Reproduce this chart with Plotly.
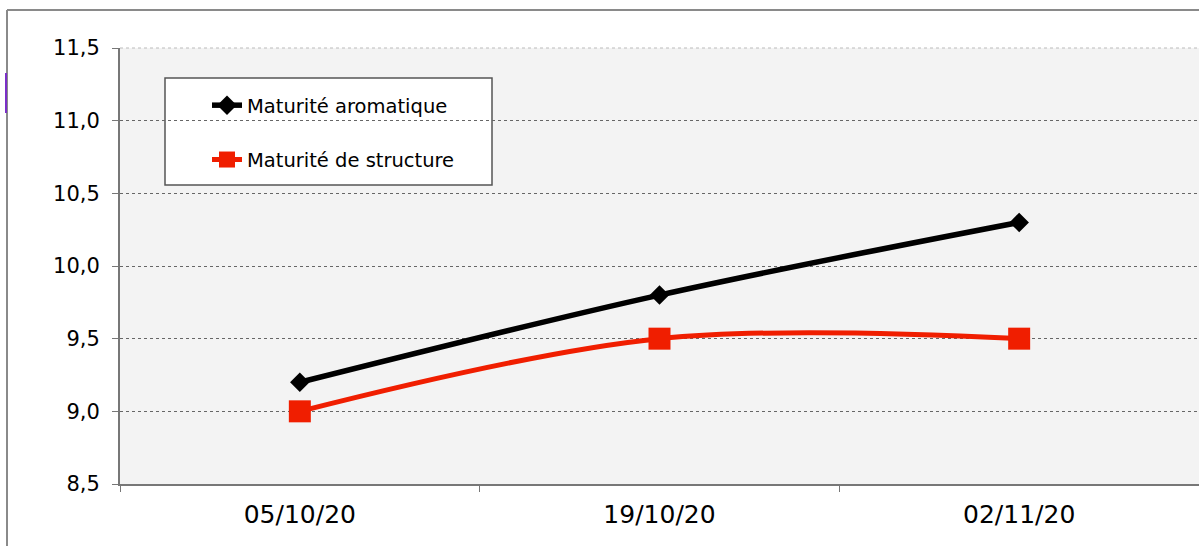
import plotly.graph_objects as go

dates = ["05/10/20", "19/10/20", "02/11/20"]
aromatique = [9.2, 9.8, 10.3]
structure = [9.0, 9.5, 9.5]
y_ticks = [8.5, 9.0, 9.5, 10.0, 10.5, 11.0, 11.5]

W, H = 1199, 546
L, R, T, B = 120, 0, 48, 62
pw, ph = W - L - R, H - T - B

def px(x):
    return (x - L) / pw

def py(y):
    return (H - B - y) / ph

fig = go.Figure()
fig.add_trace(go.Scatter(
    x=dates, y=aromatique, name="Maturité aromatique", mode="lines+markers",
    line=dict(color="#000000", width=5.5, shape="spline"),
    marker=dict(symbol="diamond", size=15, color="#000000"),
    legendgroup="a",
))
fig.add_trace(go.Scatter(
    x=dates, y=structure, name="Maturité de structure", mode="lines+markers",
    line=dict(color="#f01e00", width=5, shape="spline"),
    marker=dict(symbol="square", size=22, color="#f01e00"),
    legendgroup="b",
))

shapes = [
    # legend box
    dict(type="rect", xref="paper", yref="paper",
         x0=px(165), x1=px(492), y0=py(185), y1=py(78),
         line=dict(color="#555555", width=1.5), fillcolor="white", layer="below"),
    # light top gridline
    dict(type="line", xref="paper", yref="paper", x0=0, x1=1, y0=1, y1=1,
         line=dict(color="#bbbbbb", width=1, dash="dot"), layer="below"),
    # outer chart border
    dict(type="line", xref="paper", yref="paper", x0=px(7), x1=px(1199), y0=py(10), y1=py(10),
         line=dict(color="#8a8a8a", width=2)),
    dict(type="line", xref="paper", yref="paper", x0=px(7), x1=px(7), y0=py(10), y1=py(546),
         line=dict(color="#8a8a8a", width=2)),
    dict(type="line", xref="paper", yref="paper", x0=px(6), x1=px(6), y0=py(73), y1=py(113),
         line=dict(color="#7b2fc8", width=2)),
]

fig.update_layout(
    width=W, height=H,
    margin=dict(l=L, r=R, t=T, b=B, pad=0),
    paper_bgcolor="white",
    plot_bgcolor="#f3f3f3",
    separators=", ",
    font=dict(family="DejaVu Sans", size=20, color="#000000"),
    showlegend=True,
    legend=dict(
        x=px(207), y=py(86), xanchor="left", yanchor="top",
        bgcolor="rgba(0,0,0,0)", borderwidth=0,
        traceorder="grouped", tracegroupgap=26,
        font=dict(size=19.5, family="DejaVu Sans"),
    ),
    shapes=shapes,
)

fig.update_xaxes(
    type="category", range=[-0.5, 2.5],
    showline=True, linecolor="#777777", linewidth=2,
    ticks="outside", ticklen=6, tickcolor="#777777", tickson="boundaries",
    showgrid=False, zeroline=False,
    tickfont=dict(size=25), ticklabelstandoff=7,
)
fig.update_yaxes(
    range=[8.5, 11.5], tickvals=y_ticks, tickformat=".1f",
    showline=True, linecolor="#777777", linewidth=2,
    ticks="outside", ticklen=6, tickcolor="#777777",
    showgrid=True, gridcolor="#666666", griddash="dot", gridwidth=1,
    zeroline=False, tickfont=dict(size=21), ticklabelstandoff=8,
)

fig.write_html("out.html", config={"displayModeBar": False},
               post_script="document.body.style.margin='0';")
